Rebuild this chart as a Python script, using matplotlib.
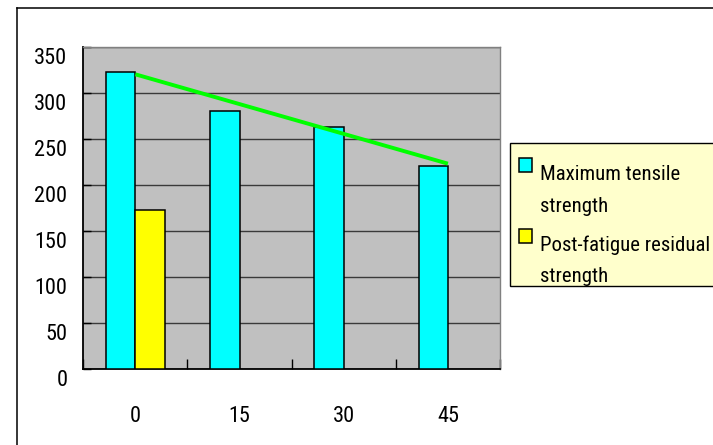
import matplotlib
matplotlib.use("Agg")
import matplotlib.pyplot as plt
import numpy as np
from matplotlib import font_manager
from matplotlib.patches import Rectangle
from matplotlib.lines import Line2D
from matplotlib.transforms import ScaledTranslation

# Data
categories = ["0", "15", "30", "45"]
max_tensile = [323, 281, 263, 221]
residual = [173, 0, 0, 0]
y_ticks = [0, 50, 100, 150, 200, 250, 300, 350]
legend_labels = ["Maximum tensile\nstrength", "Post-fatigue residual\nstrength"]

names = {f.name for f in font_manager.fontManager.ttflist}
FAMILY = "Liberation Sans"
for cand in ("Liberation Sans Narrow", "Arial Narrow", "Roboto Condensed",
             "Archivo Narrow", "Arimo"):
    if cand in names:
        FAMILY = cand
        break
plt.rcParams["font.family"] = [FAMILY, "DejaVu Sans"]

W, H = 713, 445
fig = plt.figure(figsize=(W / 100, H / 100), dpi=100)

# Legend size: the longest legend line spans about 170 px, capped at 17.3 pt
renderer = fig.canvas.get_renderer()
probe = fig.text(0, 0, "Post-fatigue residual", fontsize=17.3)
wpx = probe.get_window_extent(renderer).width
probe.remove()
FS_LEG = min(17.3, 17.3 * 170 / wpx)
FS_TICK = 16


def fx(px):
    return px / W


def fy(py):
    return 1 - py / H


ax = fig.add_axes([fx(83.3), fy(369), fx(500) - fx(83.3), fy(47.3) - fy(369)])
ax.set_facecolor("#C0C0C0")

x = np.arange(len(categories))
bw = 0.281
ax.bar(x - bw / 2, max_tensile, bw, color="#00FFFF", edgecolor="black",
       linewidth=1.1, zorder=3)
res = np.array(residual, dtype=float)
mask = res > 0
ax.bar(x[mask] + bw / 2, res[mask], bw, color="#FFFF00", edgecolor="black",
       linewidth=1.1, zorder=3)

# Linear trend line of the maximum tensile strength series
coef = np.polyfit(x, max_tensile, 1)
ax.plot(x, np.polyval(coef, x), color="#00FF00", linewidth=2.8, zorder=4,
        solid_capstyle="butt")

ax.set_xlim(-0.5, len(categories) - 0.5)
ax.set_ylim(0, 350)
ax.set_yticks(y_ticks)
ax.set_yticklabels([str(v) for v in y_ticks])
ax.yaxis.grid(True, color="#3A3A3A", linewidth=1.0, zorder=1)
ax.set_axisbelow(True)

ax.set_xticks(x)
ax.set_xticklabels(categories)
ax.set_xticks(np.arange(len(categories) + 1) - 0.5, minor=True)
ax.tick_params(axis="x", which="major", length=0, pad=27, labelsize=FS_TICK)
ax.tick_params(axis="x", which="minor", direction="in", length=7,
               width=1.0, color="black")
ax.tick_params(axis="y", direction="in", length=6, width=1.0,
               color="black", pad=11.5, labelsize=FS_TICK)

# Value labels sit a little below their gridlines
off = ScaledTranslation(0, -9 / 100, fig.dpi_scale_trans)
for lab in ax.get_yticklabels():
    lab.set_transform(lab.get_transform() + off)

for side in ("left", "bottom"):
    ax.spines[side].set_color("black")
    ax.spines[side].set_linewidth(1.3)
for side in ("top", "right"):
    ax.spines[side].set_color("#808080")
    ax.spines[side].set_linewidth(1.0)

# Outer chart frame
fig.add_artist(Line2D([fx(16.7), fx(16.7)], [fy(8.3), -0.01], color="black",
                      linewidth=1.1, transform=fig.transFigure))
fig.add_artist(Line2D([fx(16.7), 1.01], [fy(8.3), fy(8.3)], color="black",
                      linewidth=1.1, transform=fig.transFigure))

# Legend box
box = Rectangle((fx(510), fy(286)), 1.02 - fx(510), fy(142.7) - fy(286),
                transform=fig.transFigure, facecolor="#FFFFCC",
                edgecolor="black", linewidth=1.0, zorder=5)
fig.add_artist(box)
colors = ["#00FFFF", "#FFFF00"]
sq_tops = [158, 229]
baselines = [(180, 211.5), (250.7, 281.7)]
for lab, c, top, bl in zip(legend_labels, colors, sq_tops, baselines):
    fig.add_artist(Rectangle((fx(518.5), fy(top + 13.5)), fx(13.5),
                             fy(top) - fy(top + 13.5),
                             transform=fig.transFigure, facecolor=c,
                             edgecolor="black", linewidth=1.1, zorder=6))
    for line, b in zip(lab.split("\n"), bl):
        t = fig.text(fx(540), fy(b), line, fontsize=FS_LEG, va="baseline",
                     ha="left", zorder=7)
        t.set_clip_path(box)

fig.savefig("out.png", dpi=100)
